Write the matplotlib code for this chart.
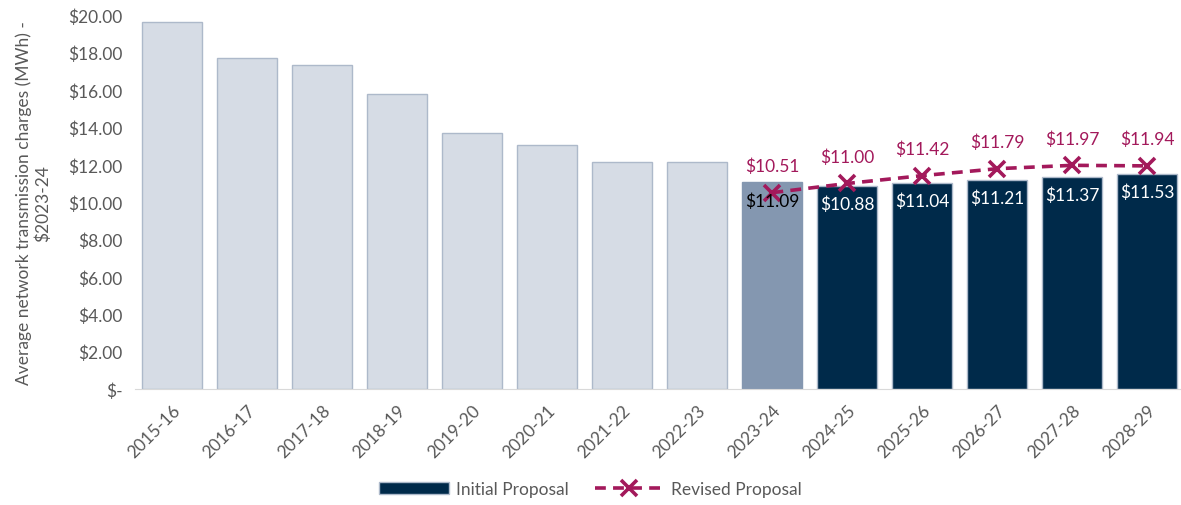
import matplotlib.pyplot as plt
from matplotlib.ticker import FuncFormatter
from matplotlib.patches import Patch

plt.rcParams['font.family'] = ['Lato', 'DejaVu Sans']

years = ['2015-16', '2016-17', '2017-18', '2018-19', '2019-20', '2020-21', '2021-22',
         '2022-23', '2023-24', '2024-25', '2025-26', '2026-27', '2027-28', '2028-29']
charges = [19.63, 17.70, 17.33, 15.78, 13.69, 13.05, 12.14, 12.14,
           11.09, 10.88, 11.04, 11.21, 11.37, 11.53]
revised_years = ['2023-24', '2024-25', '2025-26', '2026-27', '2027-28', '2028-29']
revised = [10.51, 11.00, 11.42, 11.79, 11.97, 11.94]

light = '#D6DCE5'
mid = '#8497B0'
dark = '#002A4A'
berry = '#A3195B'
grey = '#595959'

colors = [light] * 8 + [mid] + [dark] * 5
edges = ['#ADB9CA'] * 8 + [mid] + ['#ADB9CA'] * 5

fig = plt.figure(figsize=(11.81, 5.06), dpi=100)
ax = fig.add_axes([0.1143, 0.229, 0.889, 0.739])

x = list(range(len(years)))
ax.bar(x, charges, width=0.8, color=colors, edgecolor=edges, linewidth=1)

for i in range(8, len(years)):
    tc = 'black' if i == 8 else 'white'
    ax.text(x[i], charges[i] - 0.55, f'${charges[i]:.2f}', ha='center', va='top',
            fontsize=12.5, color=tc)

rx = [years.index(y) for y in revised_years]
line, = ax.plot(rx, revised, color=berry, linestyle=(0, (3, 2)), linewidth=2.6,
                marker='x', markersize=11, markeredgewidth=2.6)
for xi, v in zip(rx, revised):
    ax.text(xi, v + 1.0, f'${v:.2f}', ha='center', va='bottom', fontsize=12.5, color=berry)

ax.set_xlim(-0.5, len(years) - 0.5)
ax.set_ylim(0, 20)
ax.set_yticks(range(0, 21, 2))
ax.yaxis.set_major_formatter(FuncFormatter(lambda v, p: '$-' if v == 0 else f'${v:.2f}'))
ax.set_xticks(x)
ax.set_xticklabels(years, rotation=45, ha='right', rotation_mode='anchor')
ax.tick_params(axis='both', length=0, labelsize=12.5, colors=grey, pad=9)

for s in ['top', 'right', 'left']:
    ax.spines[s].set_visible(False)
ax.spines['bottom'].set_color('#D9D9D9')

ax.set_ylabel('Average network transmission charges (MWh) -\n$2023-24', fontsize=12.5,
              color=grey, labelpad=12)

handles = [Patch(facecolor=dark, edgecolor='#ADB9CA'), line]
fig.legend(handles, ['Initial Proposal', 'Revised Proposal'], loc='lower center',
           bbox_to_anchor=(0.5, -0.015), ncol=2, frameon=False,
           fontsize=12.5, labelcolor=grey, handlelength=4, columnspacing=1.5,
           handletextpad=0.4)

fig.savefig('out.png', dpi=100)
